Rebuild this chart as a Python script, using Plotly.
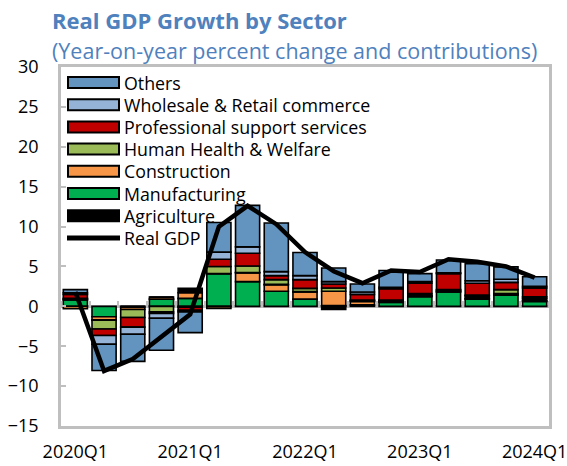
import plotly.graph_objects as go

# Quarterly categories and sector contributions (percentage points)
quarters = ["2020Q1", "2020Q2", "2020Q3", "2020Q4",
            "2021Q1", "2021Q2", "2021Q3", "2021Q4",
            "2022Q1", "2022Q2", "2022Q3", "2022Q4",
            "2023Q1", "2023Q2", "2023Q3", "2023Q4",
            "2024Q1"]
year_ticks = ["2020Q1", "2021Q1", "2022Q1", "2023Q1", "2024Q1"]

manufacturing = [0.8, -1.3, -0.1, 0.9, 1.0, 4.1, 3.1, 1.9, 0.9, 0.1, 0.2, 0.5, 1.2, 1.8, 0.9, 1.4, 0.6]
construction = [-0.3, -0.4, -0.3, 0.25, 0.7, -0.25, 1.1, 0.8, 0.9, 1.8, 0.4, 0.1, 0.1, 0.05, 0.1, 0.1, 0.1]
agriculture = [0.1, -0.05, 0.0, 0.0, 0.55, 0.0, 0.05, 0.05, 0.05, -0.4, 0.1, 0.1, 0.1, 0.15, 0.3, 0.1, 0.3]
health = [0.1, -1.1, -1.0, -0.7, -0.1, 0.9, 0.8, 0.6, 0.4, 0.4, 0.1, 0.1, 0.2, 0.1, 0.1, 0.5, 0.2]
professional = [0.5, -0.8, -1.2, -0.2, -0.4, 0.9, 1.6, 0.5, 1.1, 0.5, 0.7, 1.4, 1.3, 2.0, 1.5, 0.9, 1.1]
wholesale = [0.2, -1.1, -0.9, -0.6, -0.2, 0.9, 0.8, 0.5, 0.5, 0.3, 0.3, 0.2, 0.2, 0.1, 0.3, 0.4, 0.2]
others = [0.4, -3.3, -3.4, -4.0, -2.6, 3.7, 5.2, 6.1, 2.9, 1.7, 1.0, 2.1, 1.0, 1.6, 2.15, 1.55, 1.2]
real_gdp = [1.8, -8.1, -6.6, -3.8, -1.0, 10.0, 12.6, 10.3, 6.8, 4.4, 2.9, 4.5, 4.3, 5.9, 5.6, 5.0, 3.6]

# Stacking order (bottom to top) with colours
sectors = [
    ("Manufacturing", manufacturing, "#00B050"),
    ("Construction", construction, "#F79646"),
    ("Agriculture", agriculture, "#000000"),
    ("Human Health & Welfare", health, "#9BBB59"),
    ("Professional support services", professional, "#C00000"),
    ("Wholesale & Retail commerce", wholesale, "#95B3D7"),
    ("Others", others, "#6394BF"),
]
sector_colors = {name: color for name, _, color in sectors}

# Legend order (top to bottom)
legend_order = ["Others", "Wholesale & Retail commerce", "Professional support services",
                "Human Health & Welfare", "Construction", "Manufacturing", "Agriculture"]
gdp_label = "Real GDP"

FONT = "Open Sans"
TITLE_BLUE = "#4F81BD"
FRAME = "#BFBFBF"

W, H = 567, 466
ML, MR, MT, MB = 61, 18, 67, 40
PW, PH = W - ML - MR, H - MT - MB


def px_x(p):
    return (p - ML) / PW


def px_y(p):
    return (H - MB - p) / PH


fig = go.Figure()

for name, vals, color in sectors:
    fig.add_trace(go.Bar(
        x=quarters, y=vals, name=name,
        marker=dict(color=color, line=dict(color="black", width=1.6)),
        showlegend=False,
    ))

fig.add_trace(go.Scatter(
    x=quarters, y=real_gdp, name=gdp_label, mode="lines",
    line=dict(color="black", width=4.5),
    showlegend=False,
))

# helper trace so the zero-line tick axis is drawn
fig.add_trace(go.Scatter(
    x=[0], y=[0], xaxis="x2", mode="markers",
    marker=dict(opacity=0), hoverinfo="skip", showlegend=False,
))

y_min, y_max = -15, 30

fig.update_layout(
    width=W, height=H,
    margin=dict(l=ML, r=MR, t=MT, b=MB, autoexpand=False),
    paper_bgcolor="white", plot_bgcolor="white",
    barmode="relative", bargap=0.16,
    font=dict(family=FONT, color="black"),
    xaxis=dict(
        type="category", categoryorder="array", categoryarray=quarters,
        range=[-0.5, len(quarters) - 0.5],
        tickmode="array", tickvals=year_ticks, ticktext=year_ticks,
        ticks="", tickfont=dict(size=18, family=FONT),
        ticklabelstandoff=8, automargin=False,
        showline=True, mirror=True, linecolor=FRAME, linewidth=2.5,
        showgrid=False, zeroline=False, fixedrange=True,
    ),
    xaxis2=dict(
        overlaying="x", anchor="free", side="top",
        position=(0 - y_min) / (y_max - y_min),
        range=[-0.5, len(quarters) - 0.5],
        tickmode="linear", tick0=0.5, dtick=1,
        ticks="outside", ticklen=5, tickwidth=2, tickcolor=FRAME,
        showticklabels=False, showline=False, showgrid=False, zeroline=False,
        automargin=False,
    ),
    yaxis=dict(
        range=[y_min, y_max], dtick=5, tick0=0,
        ticks="inside", ticklen=5, tickwidth=2, tickcolor=FRAME,
        tickfont=dict(size=18, family=FONT),
        ticklabelstandoff=16, automargin=False,
        showline=True, mirror=True, linecolor=FRAME, linewidth=2.5,
        showgrid=False,
        zeroline=True, zerolinecolor=FRAME, zerolinewidth=3,
        fixedrange=True,
    ),
)

# Title and subtitle
fig.add_annotation(
    xref="paper", yref="paper", x=px_x(50), y=px_y(20),
    xanchor="left", yanchor="middle", showarrow=False,
    text="<b>Real GDP Growth by Sector</b>",
    font=dict(family=FONT, size=22, color=TITLE_BLUE),
)
fig.add_annotation(
    xref="paper", yref="paper", x=px_x(50), y=px_y(50),
    xanchor="left", yanchor="middle", showarrow=False,
    text="(Year-on-year percent change and contributions)",
    font=dict(family=FONT, size=21.5, color=TITLE_BLUE),
)

# Legend drawn as swatches + labels
row0, step = 82.5, 22.2
sw_x0, sw_x1, sw_h = 68, 119, 11
text_x = 122
for i, name in enumerate(legend_order):
    cy = row0 + i * step
    fig.add_shape(
        type="rect", xref="paper", yref="paper",
        x0=px_x(sw_x0), x1=px_x(sw_x1),
        y0=px_y(cy + sw_h / 2), y1=px_y(cy - sw_h / 2),
        fillcolor=sector_colors[name], line=dict(color="black", width=2),
    )
    fig.add_annotation(
        xref="paper", yref="paper", x=px_x(text_x), y=px_y(cy),
        xanchor="left", yanchor="middle", showarrow=False,
        text=name, font=dict(family=FONT, size=17.8, color="black"),
    )
cy = row0 + len(legend_order) * step
fig.add_shape(
    type="line", xref="paper", yref="paper",
    x0=px_x(67), x1=px_x(120), y0=px_y(cy), y1=px_y(cy),
    line=dict(color="black", width=5),
)
fig.add_annotation(
    xref="paper", yref="paper", x=px_x(text_x), y=px_y(cy),
    xanchor="left", yanchor="middle", showarrow=False,
    text=gdp_label, font=dict(family=FONT, size=17.8, color="black"),
)

fig.write_html("out.html")
